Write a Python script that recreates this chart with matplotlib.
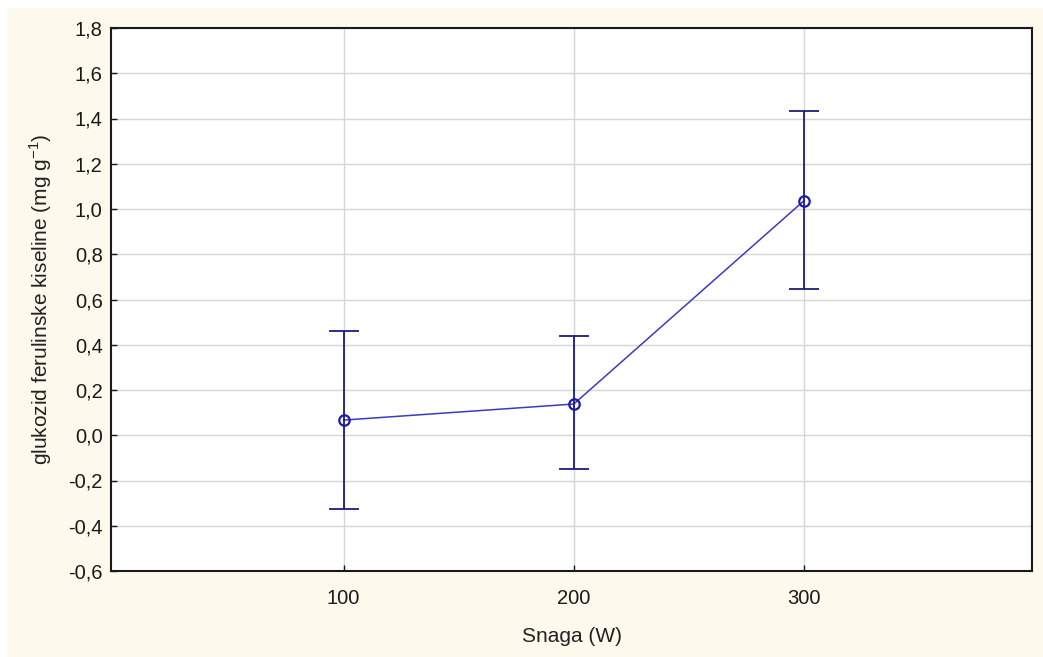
"""
coding: utf-8
"""

from matplotlib import pyplot as plt
from matplotlib.patches import Rectangle
from matplotlib.ticker import FuncFormatter

# data
snaga = [100, 200, 300]
glukozid = [0.067, 0.138, 1.037]
err_low = [0.393, 0.285, 0.390]
err_high = [0.394, 0.300, 0.396]

y_ticks = [-0.6, -0.4, -0.2, 0.0, 0.2, 0.4, 0.6, 0.8, 1.0, 1.2, 1.4, 1.6, 1.8]
x_ticks = [100, 200, 300]

plt.rcParams['font.family'] = ['Liberation Sans', 'DejaVu Sans']

fig = plt.figure(figsize=(10.43, 6.57), dpi=100, facecolor='white')
# cream panel behind everything
fig.patches.append(Rectangle((7 / 1043, 0), 1, 1 - 8 / 657, transform=fig.transFigure,
                             facecolor='#fdf9ec', edgecolor='none', zorder=-10))

ax = fig.add_axes([111 / 1043, 1 - 571 / 657, (1032 - 111) / 1043, (571 - 28) / 657])
ax.set_facecolor('white')

# line
ax.plot(snaga, glukozid, color='#3a3ac8', linewidth=1.1, zorder=3)
# error bars + markers
ax.errorbar(snaga, glukozid, yerr=[err_low, err_high], fmt='none',
            ecolor='#1c1c7a', elinewidth=1.3, capsize=11, capthick=1.3, zorder=4)
ax.plot(snaga, glukozid, 'o', markersize=7.5, markerfacecolor='none',
        markeredgecolor='#1a1ab0', markeredgewidth=1.6, zorder=5)

ax.set_xlim(-1, 399)
ax.set_ylim(-0.6, 1.8)
ax.set_xticks(x_ticks)
ax.set_yticks(y_ticks)
ax.yaxis.set_major_formatter(FuncFormatter(lambda v, p: f"{v:.1f}".replace('.', ',')))
ax.grid(True, color='#d6d6d6', linewidth=1.0)
ax.set_axisbelow(True)

ax.tick_params(direction='in', length=4, width=1, labelsize=14.5, colors='#1a1a1a', pad=6)
ax.tick_params(axis='x', pad=13)
for s in ax.spines.values():
    s.set_linewidth(1.5)
    s.set_color('#1a1a1a')

ax.set_xlabel("Snaga (W)", fontsize=15, labelpad=14, color='#222222')
ax.set_ylabel("glukozid ferulinske kiseline (mg g$^{\\mathregular{-1}}$)", fontsize=15,
              labelpad=10, color='#222222')

plt.savefig("out.png", dpi=100, facecolor=fig.get_facecolor())
